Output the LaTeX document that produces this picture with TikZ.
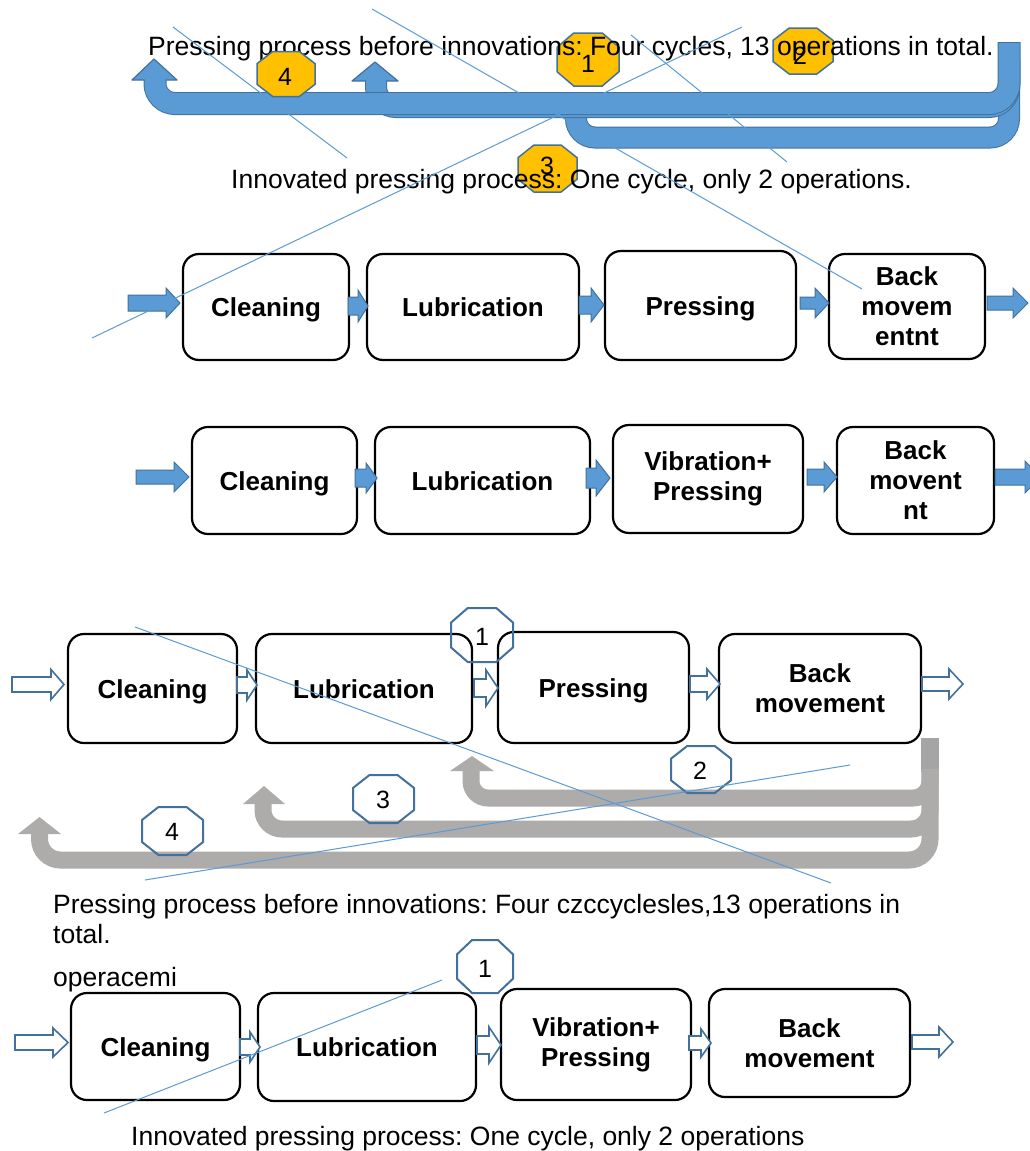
\documentclass[tikz,border=0pt]{standalone}
\usepackage{fontspec}
\setmainfont{Liberation Sans}
\frenchspacing
\definecolor{bfill}{HTML}{5B9BD5}
\definecolor{bedge}{HTML}{41719C}
\definecolor{yel}{HTML}{FFC000}
\definecolor{grl}{HTML}{AEABAB}
\definecolor{grd}{HTML}{A5A5A5}
\newcommand\blkarrow[7]{%
  \path[#7] (#1,{#3-#4}) -- ({#2-#6},{#3-#4}) -- ({#2-#6},{#3-#5}) -- (#2,#3) -- ({#2-#6},{#3+#5}) -- ({#2-#6},{#3+#4}) -- (#1,{#3+#4}) -- cycle;}
\newcommand\octa[6]{%
  \path[#6] ({#2-#4/2},{#3-0.23*#5}) -- ({#2-0.23*#4},{#3-#5/2}) -- ({#2+0.23*#4},{#3-#5/2}) -- ({#2+#4/2},{#3-0.23*#5}) -- ({#2+#4/2},{#3+0.23*#5}) -- ({#2+0.23*#4},{#3+#5/2}) -- ({#2-0.23*#4},{#3+#5/2}) -- ({#2-#4/2},{#3+0.23*#5}) -- cycle;
  \coordinate (#1) at (#2,#3);}
\tikzset{
  txt/.style={inner sep=0pt, font=\fontsize{26.5}{30}\selectfont},
  num/.style={inner sep=0pt, font=\fontsize{25}{27}\selectfont},
  box/.style={draw=black, line width=2.2pt, rounded corners=16pt, fill=white, inner sep=0pt, align=center, font=\fontsize{26}{30}\selectfont\bfseries},
  one/.style={text height=19pt, text depth=0pt},
  solidarr/.style={fill=bfill, draw=bedge, line width=1pt},
  openarr/.style={fill=white, draw=bedge, line width=1.6pt},
  ybadge/.style={fill=yel, draw=bedge, line width=1.5pt},
  obadge/.style={draw=bedge, line width=2pt},
  thinl/.style={draw=bfill, line width=1pt},
  bb/.style={draw=bedge, rounded corners=20pt},
  bf/.style={draw=bfill, rounded corners=20pt},
  gband/.style={draw=grl, line width=17pt}
}
\begin{document}
\begin{tikzpicture}[x=1pt,y=-1pt]
\fill[white] (0,0) rectangle (1030,1151);
\useasboundingbox (0,0) rectangle (1030,1151);

% ---------- top: blue U-turn arrows ----------
% C (lower loop)
\draw[bb, line width=22pt, rounded corners=19pt] (576,100) -- (576,137.5) -- (1009,137.5) -- (1009,60);
\draw[bf, line width=20pt, rounded corners=19pt] (576,100) -- (576,137.5) -- (1009,137.5) -- (1009,60);
% B
\draw[bb, line width=22pt] (376,79) -- (376,107) -- (1009,107) -- (1009,60);
\draw[bf, line width=20pt] (376,79) -- (376,107) -- (1009,107) -- (1009,60);
\fill[bfill] (352,81) -- (375,62) -- (398,81) -- cycle;
\draw[bedge, line width=1.2pt, line join=round] (366,81) -- (352,81) -- (375,62) -- (398,81) -- (386,81);
% A
\draw[bb, line width=23pt] (155,78) -- (155,103.5) -- (1009,103.5) -- (1009,42);
\draw[bf, line width=21pt] (155,78) -- (155,103.5) -- (1009,103.5) -- (1009,43);
\fill[bfill] (132,80) -- (154,59) -- (177,80) -- cycle;
\draw[bedge, line width=1.2pt, line join=round] (144.5,80) -- (132,80) -- (154,59) -- (177,80) -- (165.5,80);

% yellow badges under text
\octa{y1}{588}{59.5}{62}{53}{ybadge}
\node[num] (y1t) at (588,64) {1};
\octa{y2}{803}{51}{60}{46}{ybadge}
\node[num] (y2t) at (800,56) {2};
\octa{y3}{547.5}{168.5}{59}{47}{ybadge}
\node[num] (y3t) at (547,166) {3};

% texts top
\node[txt, anchor=base west] (t1) at (148,55) {Pressing process before innovations: Four cycles, 13 operations in total.};
\node[txt, anchor=base west] (t2) at (231,188) {Innovated pressing process: One cycle, only 2 operations.};

\octa{y4}{286}{74}{58}{45}{ybadge}
\node[num] (y4t) at (285,77) {4};

% ---------- row 1 ----------
\node[box, one, minimum width=166pt, minimum height=106pt] (c1) at (266,307) {Cleaning};
\node[box, one, minimum width=212pt, minimum height=106pt] (l1) at (473,307) {Lubrication};
\node[box, one, minimum width=191pt, minimum height=109pt] (p1) at (700.5,305.5) {Pressing};
\node[box, minimum width=156pt, minimum height=105pt] (b1) at (907,306.5) {Back\\movem\\entnt};
\blkarrow{128}{180}{303}{8}{15}{14}{solidarr}
\blkarrow{348}{368}{306}{9}{16}{10}{solidarr}
\blkarrow{579}{604}{305}{9}{17}{13}{solidarr}
\blkarrow{800}{829}{303}{6}{15}{14}{solidarr}
\blkarrow{987}{1028}{303}{7}{15}{15}{solidarr}

% ---------- row 2 ----------
\node[box, one, minimum width=165pt, minimum height=107pt] (c2) at (274.5,480.5) {Cleaning};
\node[box, one, minimum width=215pt, minimum height=107pt] (l2) at (482.5,480.5) {Lubrication};
\node[box, minimum width=190pt, minimum height=108pt] (v2) at (708,479) {Vibration+\\Pressing};
\node[box, minimum width=157pt, minimum height=107pt] (b2) at (915.5,480.5) {Back\\movent\\nt};
\blkarrow{136}{189}{477}{7}{15}{15}{solidarr}
\blkarrow{355}{377}{478}{9}{15}{11}{solidarr}
\blkarrow{586}{610}{478}{10}{18}{14}{solidarr}
\blkarrow{807}{837}{477}{8}{15}{13}{solidarr}
\blkarrow{995}{1041}{477}{8}{16}{16}{solidarr}

% ---------- row 3 ----------
\fill[grd] (921,738) rectangle (939,772);
\draw[gband, rounded corners=17pt] (471,770) -- (471,798) -- (930,798) -- (930,769);
\fill[grl] (450,771) -- (472,756) -- (494,771) -- cycle;
\draw[gband, rounded corners=19pt] (263,803) -- (263,829) -- (930,829) -- (930,769);
\fill[grl] (243,804) -- (264,786) -- (285,804) -- cycle;
\draw[gband, rounded corners=21pt] (39.5,833) -- (39.5,860) -- (930,860) -- (930,769);
\fill[grl] (18,834) -- (39.5,817) -- (61,834) -- cycle;

\node[box, one, minimum width=169pt, minimum height=109pt] (c3) at (152.5,688.5) {Cleaning};
\node[box, one, minimum width=216pt, minimum height=109pt] (l3) at (364,688.5) {Lubrication};
\node[box, one, minimum width=191pt, minimum height=111pt] (p3) at (593.5,687.5) {Pressing};
\node[box, minimum width=202pt, minimum height=109pt] (b3) at (820,688.5) {Back\\movement};
\blkarrow{12}{64}{684.5}{7.5}{15}{13}{openarr}
\blkarrow{237}{257}{685}{8}{15}{10}{openarr}
\blkarrow{474}{498}{688}{9}{18}{12}{openarr}
\blkarrow{690}{720}{684}{8}{15}{13}{openarr}
\blkarrow{922}{963}{684}{7}{15}{14}{openarr}

\octa{o1}{482}{635}{62}{54}{obadge}
\node[num] (o1t) at (482,637) {1};
\octa{o2}{701}{769.5}{60}{47}{obadge}
\node[num] (o2t) at (700,771) {2};
\octa{o3}{383.5}{799}{61}{48}{obadge}
\node[num] (o3t) at (383,800) {3};
\octa{o4}{172.5}{831}{61}{48}{obadge}
\node[num] (o4t) at (172,832) {4};

% ---------- bottom texts ----------
\node[txt, anchor=base west] (t3) at (53,913) {Pressing process before innovations: Four czccyclesles,13 operations in};
\node[txt, anchor=base west] (t4) at (53,943) {total.};
\node[txt, anchor=base west] (t5) at (53,986) {operacemi};
\node[txt, anchor=base west] (t6) at (131,1145) {Innovated pressing process: One cycle, only 2 operations};

% ---------- row 4 ----------
\node[box, one, minimum width=169pt, minimum height=107pt] (c4) at (155.5,1046.5) {Cleaning};
\node[box, one, minimum width=218pt, minimum height=108pt] (l4) at (367,1047) {Lubrication};
\node[box, minimum width=190pt, minimum height=111pt] (v4) at (596,1044.5) {Vibration+\\Pressing};
\node[box, minimum width=201pt, minimum height=108pt] (b4) at (809.5,1043) {Back\\movement};
\blkarrow{15}{68}{1042.5}{7.5}{14.5}{15}{openarr}
\blkarrow{240}{260}{1047}{8}{15}{10}{openarr}
\blkarrow{477}{501}{1045}{9}{18}{12}{openarr}
\blkarrow{689}{711}{1043}{7}{14}{10}{openarr}
\blkarrow{912}{953}{1042}{7}{15}{14}{openarr}
\octa{o5}{485}{966.5}{56}{53}{obadge}
\node[num] (o5t) at (485,969) {1};

% ---------- stray thin lines ----------
\draw[thinl] (173,27) -- (347,158);
\draw[thinl] (372,9) -- (862,289);
\draw[thinl] (742,27) -- (92,338);
\draw[thinl] (631,35) -- (787,162);
\draw[thinl] (135,627) -- (831,883);
\draw[thinl] (850,765) -- (145,880);
\draw[thinl] (104,1113) -- (442,980);
\end{tikzpicture}
\end{document}
